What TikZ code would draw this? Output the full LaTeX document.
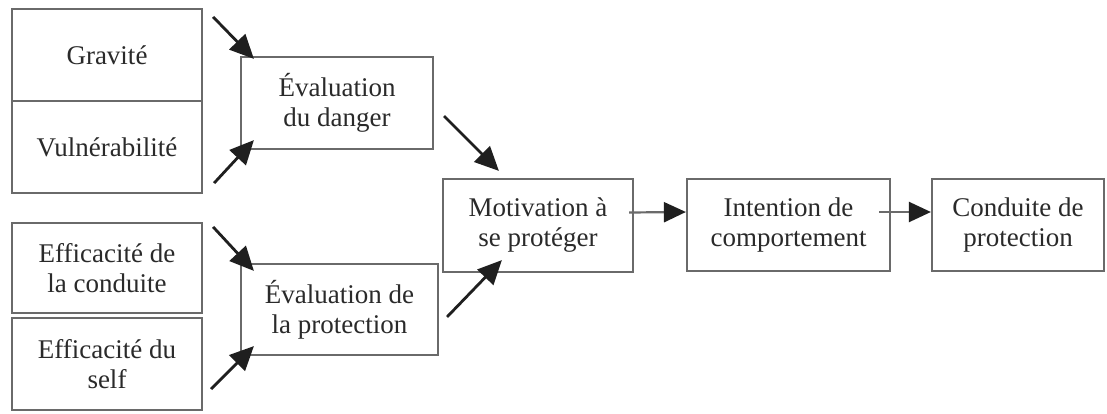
\documentclass[tikz,border=0pt]{standalone}
\usepackage{fontspec}
\setmainfont{Liberation Serif}
\usetikzlibrary{arrows.meta,calc}
\definecolor{boxline}{HTML}{6A6A6A}
\definecolor{txt}{HTML}{2A2A2A}
\begin{document}
\begin{tikzpicture}[x=1pt,y=-1pt,
  box/.style={draw=boxline, line width=2.2pt, text=txt, align=center,
    font=\fontsize{27}{30}\selectfont, inner sep=0pt},
  darr/.style={draw=black!88, line width=2.8pt, -{Triangle[length=24pt,width=22pt]}},
  harr/.style={draw=boxline, line width=2.2pt, -{Triangle[length=22pt,width=20pt,color=black!88]}}]
\useasboundingbox[fill=white] (0,0) rectangle (1107,414);
% left boxes
\node[box, minimum width=190pt, minimum height=92pt] (G) at (107,55) {Gravité};
\node[box, minimum width=190pt, minimum height=92pt] (V) at (107,147) {Vulnérabilité};
\node[box, minimum width=190pt, minimum height=90pt] (EC) at (107,268) {Efficacité de\\la conduite};
\node[box, minimum width=190pt, minimum height=92pt] (ES) at (107,364) {Efficacité du\\self};
% evaluation boxes
\node[box, minimum width=192pt, minimum height=92pt] (ED) at (337,103) {Évaluation\\du danger};
\node[box, minimum width=197pt, minimum height=91pt] (EP) at (339.5,309.5) {Évaluation de\\la protection};
% main chain
\node[box, minimum width=190pt, minimum height=93pt] (M) at (538,225.5) {Motivation à\\se protéger};
\node[box, minimum width=203pt, minimum height=92pt] (I) at (788.5,225) {Intention de\\comportement};
\node[box, minimum width=172pt, minimum height=92pt] (C) at (1018,225) {Conduite de\\protection};
% arrow start coordinates
\coordinate (a1) at ($(G.north east)+(10,9)$);
\coordinate (a2) at ($(V.south east)+(11,-11)$);
\coordinate (a3) at ($(EC.north east)+(10,5)$);
\coordinate (a4) at ($(ES.south east)+(8,-22)$);
\coordinate (a5) at ($(ED.south east)+(10,-34)$);
\coordinate (a6) at ($(EP.north east)+(8,54)$);
% arrows
\draw[darr] (a1) -- ($(ED.north west)+(14,3)$);
\draw[darr] (a2) -- ($(ED.south west)+(14,-10)$);
\draw[darr] (a3) -- ($(EP.north west)+(14,8)$);
\draw[darr] (a4) -- ($(EP.south west)+(14,-10)$);
\draw[darr] (a5) -- ($(M.north west)+(57,-7)$);
\draw[darr] (a6) -- ($(M.south west)+(60,-13)$);
\draw[harr] ($(M.east)+(-5,-13)$) -- ($(I.west)+(0,-13)$);
\draw[harr] ($(I.east)+(-12,-13)$) -- ($(C.west)+(0,-13)$);
\end{tikzpicture}
\end{document}
